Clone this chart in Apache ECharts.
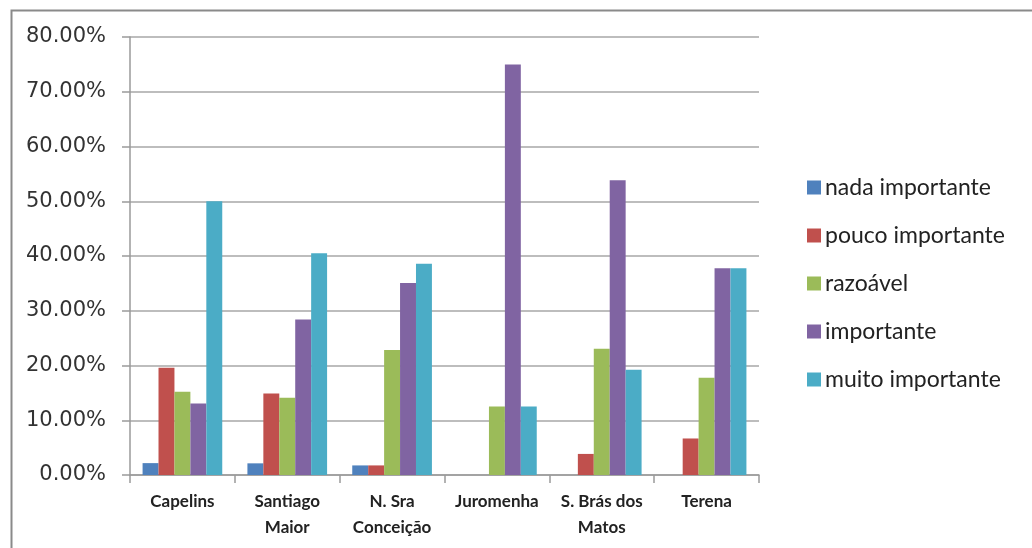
<!DOCTYPE html>
<html>
<head>
<meta charset="utf-8">
<script src="https://cdn.jsdelivr.net/npm/echarts@6/dist/echarts.min.js"></script>
<style>
  html, body { margin: 0; padding: 0; background: #fff; }
  #chart { width: 1032px; height: 548px; }
</style>
</head>
<body>
<div id="chart"></div>
<script>
// Parishes on the category axis
const categories = ['Capelins', 'Santiago\nMaior', 'N. Sra\nConceição', 'Juromenha', 'S. Brás dos\nMatos', 'Terena'];

// Share of answers per importance level (percent)
const nadaImportante   = [2.17, 2.13, 1.75, 0, 0, 0];
const poucoImportante  = [19.57, 14.89, 1.75, 0, 3.85, 6.67];
const razoavel         = [15.22, 14.10, 22.81, 12.5, 23.08, 17.78];
const importante       = [13.04, 28.40, 35.09, 75.0, 53.85, 37.78];
const muitoImportante  = [50.0, 40.50, 38.60, 12.5, 19.23, 37.78];

const seriesNames = ['nada importante', 'pouco importante', 'razoável', 'importante', 'muito importante'];
const seriesData = [nadaImportante, poucoImportante, razoavel, importante, muitoImportante];
const colors = ['#4F81BD', '#C0504D', '#9BBB59', '#8064A2', '#4BACC6'];

// Value axis: 0% to 80% in steps of 10%
const yMin = 0, yMax = 80, yStep = 10;

const chart = echarts.init(document.getElementById('chart'), null, { renderer: 'canvas' });

chart.setOption({
  animation: false,
  backgroundColor: '#fff',
  color: colors,
  graphic: [{
    type: 'rect',
    left: 9, top: 8,
    shape: { width: 1040, height: 560 },
    style: { fill: 'none', stroke: '#8a8a8a', lineWidth: 2 },
    silent: true
  }],
  grid: { left: 130, right: 273, top: 37, bottom: 73 },
  legend: {
    orient: 'vertical',
    left: 802,
    top: 171,
    icon: 'rect',
    itemWidth: 14,
    itemHeight: 14,
    itemGap: 25,
    data: seriesNames,
    textStyle: { fontFamily: 'Lato', fontSize: 23, color: '#222', lineHeight: 23, padding: [0, 0, 0, -1] }
  },
  xAxis: {
    type: 'category',
    data: categories,
    axisLine: { lineStyle: { color: '#9a9a9a', width: 1.5 } },
    axisTick: { show: true, length: 8, lineStyle: { color: '#9a9a9a', width: 1.5 } },
    axisLabel: {
      interval: 0,
      margin: 14,
      fontFamily: 'Lato',
      fontWeight: 'bold',
      fontSize: 17,
      lineHeight: 26,
      color: '#222'
    }
  },
  yAxis: {
    type: 'value',
    min: yMin,
    max: yMax,
    interval: yStep,
    axisLine: { show: true, lineStyle: { color: '#9a9a9a', width: 1.5 } },
    axisTick: { show: true, length: 8, lineStyle: { color: '#9a9a9a', width: 1.5 } },
    splitLine: { lineStyle: { color: '#bdbdbd', width: 2 } },
    axisLabel: {
      margin: 24,
      fontFamily: 'DejaVu Sans',
      fontSize: 21,
      color: '#333',
      formatter: v => v.toFixed(2) + '%'
    }
  },
  series: seriesNames.map((name, i) => ({
    name,
    type: 'bar',
    data: seriesData[i],
    barGap: '0%',
    barCategoryGap: '24%',
    itemStyle: { color: colors[i] }
  }))
});
</script>
</body>
</html>
